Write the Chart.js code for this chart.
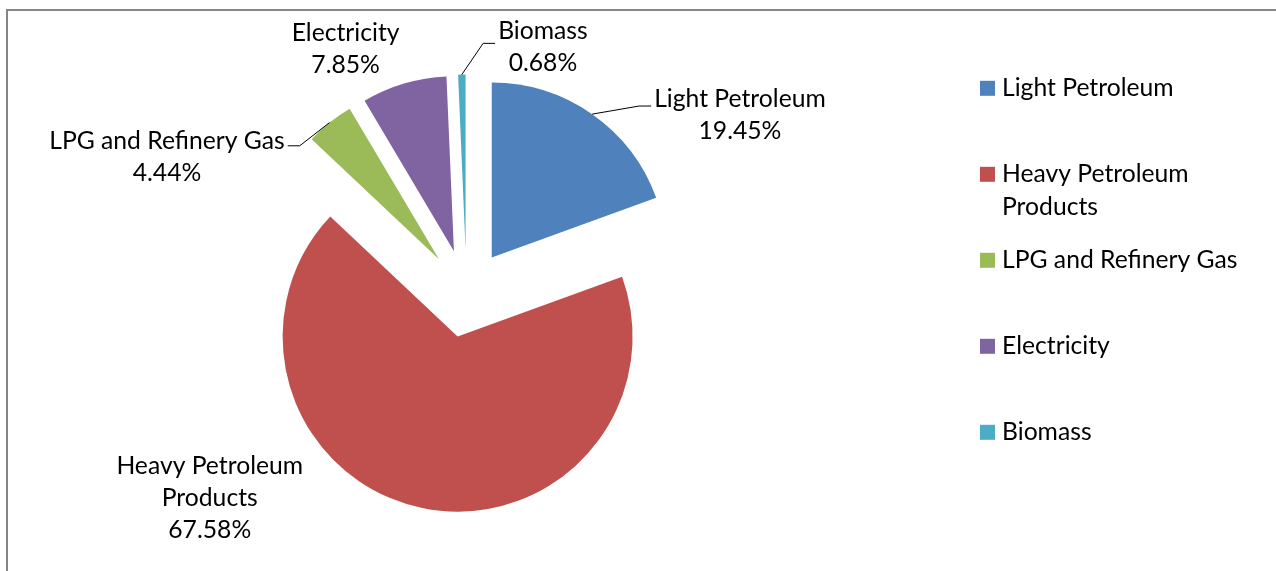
<!DOCTYPE html>
<html><head><meta charset="utf-8">
<script src="https://cdn.jsdelivr.net/npm/chart.js@4"></script>
<style>html,body{margin:0;padding:0;background:#fff;overflow:hidden}canvas{display:block}</style>
</head><body>
<canvas id="c" width="1276" height="571"></canvas>
<script>
// ---- data ----
const categories = ['Light Petroleum', 'Heavy Petroleum Products', 'LPG and Refinery Gas', 'Electricity', 'Biomass'];
const shares = [19.45, 67.58, 4.44, 7.85, 0.68];
const colors = ['#4F81BD', '#C0504D', '#9BBB59', '#8064A2', '#4BACC6'];

// ---- style ----
const FONT_FAMILY = 'Lato, "Liberation Sans", sans-serif';
const TARGET_WIDTH = 172;   // reference width of the first label text
const EXPLODE = 44;
const RADIUS = 175;
const LINE_H = 32;
const labelLayout = [
  {dx: 147.8, dy: -6.8, wrap: Infinity, leader: 'left', leaderY: -1.3},
  {dx: -212.5, dy: -33.8, wrap: 200, leader: null},
  {dx: -162.6, dy: 26.5, wrap: Infinity, leader: 'right', leaderY: -3.3},
  {dx: -58.4, dy: -43, wrap: Infinity, leader: null},
  {dx: 81.1, dy: -35.2, wrap: Infinity, leader: 'left', leaderY: 4}
];
const LEGEND = {x: 980, textX: 1002, y0: 88.3, step: 86, box: 15, maxW: 262, lineH: 33, baseOff: 7.5};

const mctx = document.createElement('canvas').getContext('2d');
mctx.font = '100px ' + FONT_FAMILY;
const FONT_SIZE = Math.round(100 * TARGET_WIDTH / mctx.measureText(categories[0]).width * 10) / 10;
const FONT = FONT_SIZE + 'px ' + FONT_FAMILY;

const fmt = v => v.toFixed(2) + '%';
function wrap(ctx, text, maxW) {
  const words = text.split(' '); const lines = []; let cur = '';
  words.forEach(w => {
    const t = cur ? cur + ' ' + w : w;
    if (cur && ctx.measureText(t).width > maxW) { lines.push(cur); cur = w; } else cur = t;
  });
  if (cur) lines.push(cur);
  return lines;
}

const framePlugin = {
  id: 'frame',
  beforeDraw(chart) {
    const ctx = chart.ctx;
    ctx.save();
    ctx.fillStyle = '#fff'; ctx.fillRect(0, 0, chart.width, chart.height);
    ctx.strokeStyle = '#868686'; ctx.lineWidth = 2;
    ctx.strokeRect(7, 10, chart.width + 50, chart.height + 50);
    ctx.restore();
  }
};

const explodePlugin = {
  id: 'explode',
  beforeDatasetDraw(chart, args) {
    const ctx = chart.ctx;
    args.meta.data.forEach(arc => {
      const mid = (arc.startAngle + arc.endAngle) / 2;
      ctx.save();
      ctx.translate(Math.cos(mid) * EXPLODE, Math.sin(mid) * EXPLODE);
      arc.draw(ctx);
      ctx.restore();
    });
    return false;
  }
};

const labelPlugin = {
  id: 'sliceLabels',
  afterDatasetsDraw(chart) {
    const ctx = chart.ctx; const meta = chart.getDatasetMeta(0);
    const vals = chart.data.datasets[0].data;
    ctx.save();
    ctx.font = FONT; ctx.fillStyle = '#000'; ctx.strokeStyle = '#000'; ctx.lineWidth = 1;
    ctx.textAlign = 'center'; ctx.textBaseline = 'alphabetic';
    meta.data.forEach((arc, i) => {
      const mid = (arc.startAngle + arc.endAngle) / 2;
      const R = arc.outerRadius + EXPLODE;
      const px = arc.x + Math.cos(mid) * R, py = arc.y + Math.sin(mid) * R;
      const L = labelLayout[i];
      const lines = wrap(ctx, chart.data.labels[i], L.wrap).concat([fmt(vals[i])]);
      const cx = px + L.dx, by = py + L.dy;
      lines.forEach((t, k) => ctx.fillText(t, cx, by + k * LINE_H));
      if (L.leader) {
        const w = Math.max(...lines.map(t => ctx.measureText(t).width));
        const ly = by + L.leaderY;
        const sx = L.leader === 'left' ? cx - w / 2 - 3 : cx + w / 2 + 3;
        const ex = L.leader === 'left' ? sx - 12 : sx + 12;
        ctx.beginPath(); ctx.moveTo(sx, ly); ctx.lineTo(ex, ly); ctx.lineTo(px, py); ctx.stroke();
      }
    });
    ctx.restore();
  }
};

const legendPlugin = {
  id: 'sideLegend',
  afterDraw(chart) {
    const ctx = chart.ctx;
    const bg = chart.data.datasets[0].backgroundColor;
    ctx.save();
    ctx.font = FONT; ctx.fillStyle = '#000'; ctx.textAlign = 'left'; ctx.textBaseline = 'alphabetic';
    chart.data.labels.forEach((lab, i) => {
      const cy = LEGEND.y0 + i * LEGEND.step;
      ctx.fillStyle = bg[i];
      ctx.fillRect(LEGEND.x, cy - LEGEND.box / 2, LEGEND.box, LEGEND.box);
      ctx.fillStyle = '#000';
      wrap(ctx, lab, LEGEND.maxW).forEach((t, k) => ctx.fillText(t, LEGEND.textX, cy + LEGEND.baseOff + k * LEGEND.lineH));
    });
    ctx.restore();
  }
};

new Chart(document.getElementById('c'), {
  type: 'pie',
  data: {
    labels: categories,
    datasets: [{data: shares, backgroundColor: colors, borderWidth: 0, radius: RADIUS}]
  },
  options: {
    responsive: false,
    animation: false,
    events: [],
    layout: {padding: {left: 0, right: 343, top: 16, bottom: 0}},
    plugins: {legend: {display: false}, tooltip: {enabled: false}}
  },
  plugins: [framePlugin, explodePlugin, labelPlugin, legendPlugin]
});
</script>
</body></html>
